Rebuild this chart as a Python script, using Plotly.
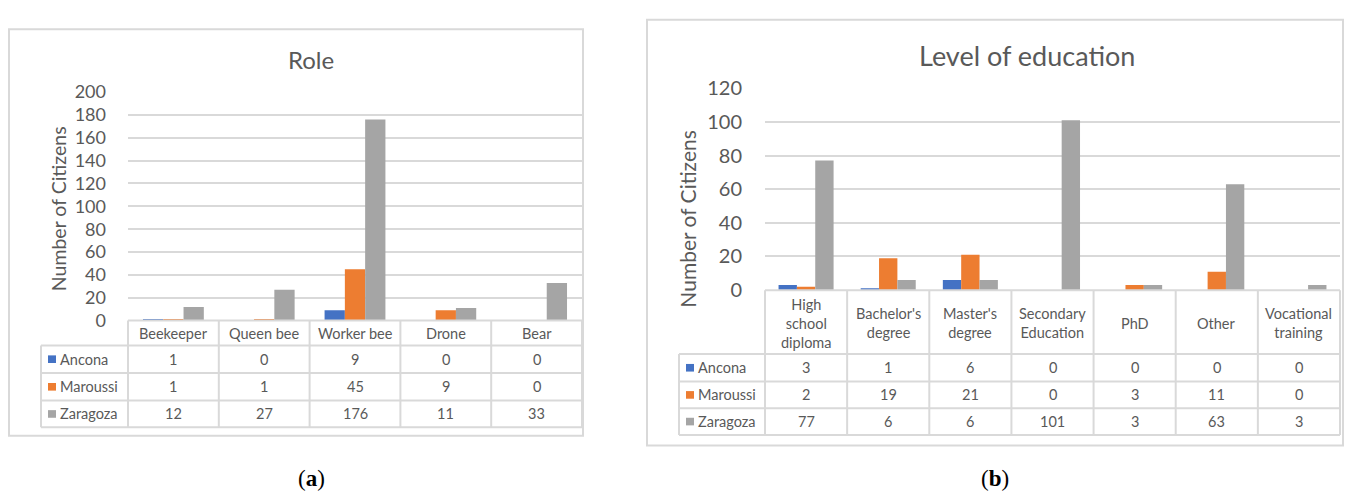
import textwrap
import plotly.graph_objects as go

W, H = 1349, 504

# ---------------- data ----------------
series_names = ["Ancona", "Maroussi", "Zaragoza"]

role_categories = ["Beekeeper", "Queen bee", "Worker bee", "Drone", "Bear"]
role_ancona = [1, 0, 9, 0, 0]
role_maroussi = [1, 1, 45, 9, 0]
role_zaragoza = [12, 27, 176, 11, 33]
role_ticks = [0, 20, 40, 60, 80, 100, 120, 140, 160, 180, 200]

edu_categories = ["High school diploma", "Bachelor's degree", "Master's degree",
                  "Secondary Education", "PhD", "Other", "Vocational training"]
edu_ancona = [3, 1, 6, 0, 0, 0, 0]
edu_maroussi = [2, 19, 21, 0, 3, 11, 0]
edu_zaragoza = [77, 6, 6, 101, 3, 63, 3]
edu_ticks = [0, 20, 40, 60, 80, 100, 120]

titles = ["Role", "Level of education"]
y_title = "Number of Citizens"
captions = ["a", "b"]

# ---------------- style ----------------
COLORS = ["#4472C4", "#ED7D31", "#A5A5A5"]
TXT = "#595959"
GRID = "#D9D9D9"
FONT = "Lato"


def px(x):
    return x / W


def py(y):
    return 1 - y / H


panels = [
    dict(cats=role_categories, vals=[role_ancona, role_maroussi, role_zaragoza],
         ticks=role_ticks, title=titles[0], caption=captions[0],
         xa="x", ya="y", xkey="xaxis", ykey="yaxis",
         plot_x=(128, 582), plot_y=(83, 323),
         rows=(349, 378, 407, 435), label_left=41,
         border=(9, 17, 583, 444), title_pos=(311, 49), title_size=24,
         tick_size=18, standoff=21, ytitle_pos=(58, 206), ytitle_size=19.5,
         table_size=14.5, cap_pos=(311, 489), wrap=None),
    dict(cats=edu_categories, vals=[edu_ancona, edu_maroussi, edu_zaragoza],
         ticks=edu_ticks, title=titles[1], caption=captions[1],
         xa="x2", ya="y2", xkey="xaxis2", ykey="yaxis2",
         plot_x=(765, 1340), plot_y=(79, 291),
         rows=(358, 387, 415, 443), label_left=679,
         border=(647, 7, 1343, 454), title_pos=(1027, 45), title_size=27,
         tick_size=20, standoff=22, ytitle_pos=(688, 217), ytitle_size=21,
         table_size=14.5, cap_pos=(995, 489), wrap=10),
]

fig = go.Figure()
shapes = []
annotations = []
layout_axes = {}

for p in panels:
    for name, vals, col in zip(series_names, p["vals"], COLORS):
        fig.add_trace(go.Bar(x=p["cats"], y=vals, name=name, marker_color=col,
                             marker_line_width=0, xaxis=p["xa"], yaxis=p["ya"],
                             showlegend=False, hoverinfo="x+y+name"))

    x0, x1 = p["plot_x"]
    ytop, y0 = p["plot_y"]
    layout_axes[p["xkey"]] = dict(
        domain=[px(x0), px(x1)], type="category", categoryarray=p["cats"],
        range=[-0.5, len(p["cats"]) - 0.5], showticklabels=False,
        showgrid=False, zeroline=False, showline=False, fixedrange=True,
        anchor=p["ya"])
    layout_axes[p["ykey"]] = dict(
        domain=[py(y0), py(ytop)], range=[p["ticks"][0], p["ticks"][-1]],
        tickvals=p["ticks"], showgrid=True, gridcolor=GRID, gridwidth=2,
        zeroline=False, showline=False, ticks="",
        tickfont=dict(family=FONT, size=p["tick_size"], color=TXT),
        ticklabelstandoff=p["standoff"], fixedrange=True, anchor=p["xa"])

    # outer chart border
    bx0, by0, bx1, by1 = p["border"]
    shapes.append(dict(type="rect", xref="paper", yref="paper",
                       x0=px(bx0), x1=px(bx1), y0=py(by0), y1=py(by1),
                       line=dict(color=GRID, width=2), fillcolor="rgba(0,0,0,0)"))

    # title
    annotations.append(dict(text=p["title"], xref="paper", yref="paper",
                            x=px(p["title_pos"][0]), y=py(p["title_pos"][1]),
                            xanchor="center", yanchor="middle", showarrow=False,
                            font=dict(family=FONT, size=p["title_size"], color=TXT)))
    # y title
    annotations.append(dict(text=y_title, xref="paper", yref="paper",
                            x=px(p["ytitle_pos"][0]), y=py(p["ytitle_pos"][1]),
                            xanchor="center", yanchor="middle", textangle=-90,
                            showarrow=False,
                            font=dict(family=FONT, size=p["ytitle_size"], color=TXT)))
    # caption
    annotations.append(dict(text="(<b>" + p["caption"] + "</b>)", xref="paper", yref="paper",
                            x=px(p["cap_pos"][0]), y=py(p["cap_pos"][1]),
                            xanchor="center", yanchor="middle", showarrow=False,
                            font=dict(family="Liberation Serif", size=23, color="#000000")))

    # data table
    n = len(p["cats"])
    cw = (x1 - x0) / n
    rows = p["rows"]
    lcol = p["label_left"]
    line = dict(color=GRID, width=2)
    # horizontal lines
    shapes.append(dict(type="line", xref="paper", yref="paper",
                       x0=px(x0), x1=px(x1), y0=py(y0), y1=py(y0), line=line))
    for r in rows:
        shapes.append(dict(type="line", xref="paper", yref="paper",
                           x0=px(lcol), x1=px(x1), y0=py(r), y1=py(r), line=line))
    # vertical lines
    for i in range(n + 1):
        xx = x0 + i * cw
        shapes.append(dict(type="line", xref="paper", yref="paper",
                           x0=px(xx), x1=px(xx), y0=py(y0), y1=py(rows[-1]), line=line))
    shapes.append(dict(type="line", xref="paper", yref="paper",
                       x0=px(lcol), x1=px(lcol), y0=py(rows[0]), y1=py(rows[-1]), line=line))

    tfont = dict(family=FONT, size=p["table_size"], color=TXT)
    # header
    hy = (y0 + rows[0]) / 2
    for i, c in enumerate(p["cats"]):
        label = "<br>".join(textwrap.wrap(c, p["wrap"])) if p["wrap"] else c
        annotations.append(dict(text=label, xref="paper", yref="paper",
                                x=px(x0 + (i + 0.5) * cw), y=py(hy + 1),
                                xanchor="center", yanchor="middle", showarrow=False,
                                align="center", font=tfont))
    # body
    for k, (name, vals, col) in enumerate(zip(series_names, p["vals"], COLORS)):
        ry = (rows[k] + rows[k + 1]) / 2
        shapes.append(dict(type="rect", xref="paper", yref="paper",
                           x0=px(lcol + 7), x1=px(lcol + 15), y0=py(ry - 4), y1=py(ry + 4),
                           line=dict(width=0), fillcolor=col))
        annotations.append(dict(text=name, xref="paper", yref="paper",
                                x=px(lcol + 17), y=py(ry), xanchor="left", yanchor="middle",
                                showarrow=False, font=tfont))
        for i, v in enumerate(vals):
            annotations.append(dict(text=str(v), xref="paper", yref="paper",
                                    x=px(x0 + (i + 0.5) * cw), y=py(ry),
                                    xanchor="center", yanchor="middle", showarrow=False,
                                    font=tfont))

fig.update_layout(
    width=W, height=H, margin=dict(l=0, r=0, t=0, b=0),
    paper_bgcolor="#FFFFFF", plot_bgcolor="rgba(0,0,0,0)",
    barmode="group", bargap=0.33, bargroupgap=0,
    shapes=shapes, annotations=annotations, showlegend=False,
    **layout_axes,
)

fig.write_html("out.html")
